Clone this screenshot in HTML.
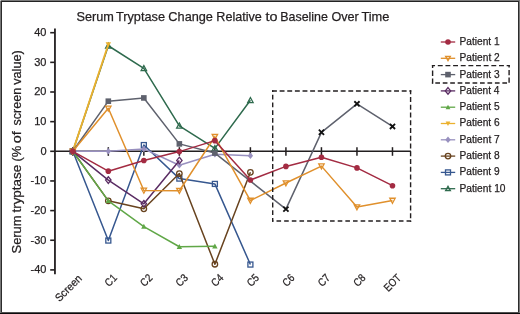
<!DOCTYPE html>
<html><head><meta charset="utf-8"><style>
html,body{margin:0;padding:0;background:#fff;}
body{width:520px;height:314px;overflow:hidden;}
svg{display:block;will-change:transform;}
text{font-family:"Liberation Sans",sans-serif;fill:#231f20;stroke:#231f20;stroke-width:0.25px;}
.tk{font-size:11px;}
.xl{font-size:11px;}
.lg{font-size:10.3px;}
.tt{font-size:13.2px;}
.yl{font-size:13.4px;}
</style></head><body>
<svg width="520" height="314" viewBox="0 0 520 314">
<line x1="54.95" y1="28.6" x2="54.95" y2="274.2" stroke="#231f20" stroke-width="1.8"/>
<line x1="50.2" y1="269.90" x2="55" y2="269.90" stroke="#231f20" stroke-width="1.6"/>
<text x="46.5" y="273.25" text-anchor="end" class="tk">-40</text>
<line x1="50.2" y1="240.25" x2="55" y2="240.25" stroke="#231f20" stroke-width="1.6"/>
<text x="46.5" y="243.60" text-anchor="end" class="tk">-30</text>
<line x1="50.2" y1="210.60" x2="55" y2="210.60" stroke="#231f20" stroke-width="1.6"/>
<text x="46.5" y="213.95" text-anchor="end" class="tk">-20</text>
<line x1="50.2" y1="180.95" x2="55" y2="180.95" stroke="#231f20" stroke-width="1.6"/>
<text x="46.5" y="184.30" text-anchor="end" class="tk">-10</text>
<line x1="50.2" y1="151.30" x2="55" y2="151.30" stroke="#231f20" stroke-width="1.6"/>
<text x="46.5" y="154.65" text-anchor="end" class="tk">0</text>
<line x1="50.2" y1="121.65" x2="55" y2="121.65" stroke="#231f20" stroke-width="1.6"/>
<text x="46.5" y="125.00" text-anchor="end" class="tk">10</text>
<line x1="50.2" y1="92.00" x2="55" y2="92.00" stroke="#231f20" stroke-width="1.6"/>
<text x="46.5" y="95.35" text-anchor="end" class="tk">20</text>
<line x1="50.2" y1="62.35" x2="55" y2="62.35" stroke="#231f20" stroke-width="1.6"/>
<text x="46.5" y="65.70" text-anchor="end" class="tk">30</text>
<line x1="50.2" y1="32.70" x2="55" y2="32.70" stroke="#231f20" stroke-width="1.6"/>
<text x="46.5" y="36.05" text-anchor="end" class="tk">40</text>
<line x1="55" y1="151.3" x2="411" y2="151.3" stroke="#231f20" stroke-width="1.6"/>
<line x1="72.80" y1="147.2" x2="72.80" y2="155.8" stroke="#231f20" stroke-width="1.5"/>
<line x1="108.32" y1="147.2" x2="108.32" y2="155.8" stroke="#231f20" stroke-width="1.5"/>
<line x1="143.84" y1="147.2" x2="143.84" y2="155.8" stroke="#231f20" stroke-width="1.5"/>
<line x1="179.36" y1="147.2" x2="179.36" y2="155.8" stroke="#231f20" stroke-width="1.5"/>
<line x1="214.88" y1="147.2" x2="214.88" y2="155.8" stroke="#231f20" stroke-width="1.5"/>
<line x1="250.40" y1="147.2" x2="250.40" y2="155.8" stroke="#231f20" stroke-width="1.5"/>
<line x1="285.92" y1="147.2" x2="285.92" y2="155.8" stroke="#231f20" stroke-width="1.5"/>
<line x1="321.44" y1="147.2" x2="321.44" y2="155.8" stroke="#231f20" stroke-width="1.5"/>
<line x1="356.96" y1="147.2" x2="356.96" y2="155.8" stroke="#231f20" stroke-width="1.5"/>
<line x1="392.48" y1="147.2" x2="392.48" y2="155.8" stroke="#231f20" stroke-width="1.5"/>
<text x="82.60" y="279.20" text-anchor="end" transform="rotate(-45 82.60 279.20)" class="xl" textLength="32.76" lengthAdjust="spacingAndGlyphs">Screen</text>
<text x="117.62" y="278.60" text-anchor="end" transform="rotate(-45 117.62 278.60)" class="xl" textLength="12.09" lengthAdjust="spacingAndGlyphs">C1</text>
<text x="153.14" y="278.60" text-anchor="end" transform="rotate(-45 153.14 278.60)" class="xl" textLength="12.09" lengthAdjust="spacingAndGlyphs">C2</text>
<text x="188.66" y="278.60" text-anchor="end" transform="rotate(-45 188.66 278.60)" class="xl" textLength="12.09" lengthAdjust="spacingAndGlyphs">C3</text>
<text x="224.18" y="278.60" text-anchor="end" transform="rotate(-45 224.18 278.60)" class="xl" textLength="12.09" lengthAdjust="spacingAndGlyphs">C4</text>
<text x="259.70" y="278.60" text-anchor="end" transform="rotate(-45 259.70 278.60)" class="xl" textLength="12.09" lengthAdjust="spacingAndGlyphs">C5</text>
<text x="295.22" y="278.60" text-anchor="end" transform="rotate(-45 295.22 278.60)" class="xl" textLength="12.09" lengthAdjust="spacingAndGlyphs">C6</text>
<text x="330.74" y="278.60" text-anchor="end" transform="rotate(-45 330.74 278.60)" class="xl" textLength="12.09" lengthAdjust="spacingAndGlyphs">C7</text>
<text x="366.26" y="278.60" text-anchor="end" transform="rotate(-45 366.26 278.60)" class="xl" textLength="12.09" lengthAdjust="spacingAndGlyphs">C8</text>
<text x="401.78" y="278.60" text-anchor="end" transform="rotate(-45 401.78 278.60)" class="xl" textLength="19.22" lengthAdjust="spacingAndGlyphs">EOT</text>
<path d="M72.80,151.30L108.32,45.75L143.84,68.28L179.36,125.80L214.88,148.34L250.40,100.30" fill="none" stroke="#2e6a4d" stroke-width="1.5" stroke-linejoin="round"/>
<polygon points="72.80,148.55 75.50,153.55 70.10,153.55" fill="none" stroke="#2e6a4d" stroke-width="1.3"/>
<polygon points="108.32,43.00 111.02,48.00 105.62,48.00" fill="none" stroke="#2e6a4d" stroke-width="1.3"/>
<polygon points="143.84,65.53 146.54,70.53 141.14,70.53" fill="none" stroke="#2e6a4d" stroke-width="1.3"/>
<polygon points="179.36,123.05 182.06,128.05 176.66,128.05" fill="none" stroke="#2e6a4d" stroke-width="1.3"/>
<polygon points="214.88,145.59 217.58,150.59 212.18,150.59" fill="none" stroke="#2e6a4d" stroke-width="1.3"/>
<polygon points="250.40,97.55 253.10,102.55 247.70,102.55" fill="none" stroke="#2e6a4d" stroke-width="1.3"/>
<path d="M72.80,151.30L108.32,240.55L143.84,145.07L179.36,178.58L214.88,183.92L250.40,264.56" fill="none" stroke="#36578f" stroke-width="1.5" stroke-linejoin="round"/>
<rect x="70.30" y="148.80" width="5.00" height="5.00" fill="none" stroke="#36578f" stroke-width="1.3"/>
<rect x="105.82" y="238.05" width="5.00" height="5.00" fill="none" stroke="#36578f" stroke-width="1.3"/>
<rect x="141.34" y="142.57" width="5.00" height="5.00" fill="none" stroke="#36578f" stroke-width="1.3"/>
<rect x="176.86" y="176.08" width="5.00" height="5.00" fill="none" stroke="#36578f" stroke-width="1.3"/>
<rect x="212.38" y="181.42" width="5.00" height="5.00" fill="none" stroke="#36578f" stroke-width="1.3"/>
<rect x="247.90" y="262.06" width="5.00" height="5.00" fill="none" stroke="#36578f" stroke-width="1.3"/>
<path d="M72.80,151.30L108.32,200.82L143.84,208.82L179.36,173.54L214.88,264.27L250.40,172.35" fill="none" stroke="#68431f" stroke-width="1.5" stroke-linejoin="round"/>
<circle cx="72.80" cy="151.30" r="2.75" fill="none" stroke="#68431f" stroke-width="1.3"/>
<circle cx="108.32" cy="200.82" r="2.75" fill="none" stroke="#68431f" stroke-width="1.3"/>
<circle cx="143.84" cy="208.82" r="2.75" fill="none" stroke="#68431f" stroke-width="1.3"/>
<circle cx="179.36" cy="173.54" r="2.75" fill="none" stroke="#68431f" stroke-width="1.3"/>
<circle cx="214.88" cy="264.27" r="2.75" fill="none" stroke="#68431f" stroke-width="1.3"/>
<circle cx="250.40" cy="172.35" r="2.75" fill="none" stroke="#68431f" stroke-width="1.3"/>
<path d="M72.80,151.30L108.32,151.30L143.84,148.93L179.36,165.24L214.88,154.27L250.40,155.75" fill="none" stroke="#9890bf" stroke-width="1.5" stroke-linejoin="round"/>
<polygon points="72.80,148.00 75.50,151.30 72.80,154.60 70.10,151.30" fill="#9890bf"/>
<polygon points="108.32,148.00 111.02,151.30 108.32,154.60 105.62,151.30" fill="#9890bf"/>
<polygon points="143.84,145.63 146.54,148.93 143.84,152.23 141.14,148.93" fill="#9890bf"/>
<polygon points="179.36,161.94 182.06,165.24 179.36,168.54 176.66,165.24" fill="#9890bf"/>
<polygon points="214.88,150.97 217.58,154.27 214.88,157.57 212.18,154.27" fill="#9890bf"/>
<polygon points="250.40,152.45 253.10,155.75 250.40,159.05 247.70,155.75" fill="#9890bf"/>
<path d="M72.80,151.30L108.32,44.56" fill="none" stroke="#ebb12e" stroke-width="1.9" stroke-linejoin="round"/>
<polygon points="72.80,154.05 75.50,149.05 70.10,149.05" fill="#ebb12e"/>
<polygon points="108.32,47.31 111.02,42.31 105.62,42.31" fill="#ebb12e"/>
<path d="M72.80,151.30L108.32,200.82L143.84,226.61L179.36,246.77L214.88,246.18" fill="none" stroke="#60a747" stroke-width="1.5" stroke-linejoin="round"/>
<polygon points="72.80,148.55 75.50,153.55 70.10,153.55" fill="#60a747"/>
<polygon points="108.32,198.07 111.02,203.07 105.62,203.07" fill="#60a747"/>
<polygon points="143.84,223.86 146.54,228.86 141.14,228.86" fill="#60a747"/>
<polygon points="179.36,244.02 182.06,249.02 176.66,249.02" fill="#60a747"/>
<polygon points="214.88,243.43 217.58,248.43 212.18,248.43" fill="#60a747"/>
<path d="M72.80,151.30L108.32,180.06L143.84,203.78L179.36,160.49" fill="none" stroke="#5a2c63" stroke-width="1.5" stroke-linejoin="round"/>
<polygon points="72.80,148.00 75.50,151.30 72.80,154.60 70.10,151.30" fill="none" stroke="#5a2c63" stroke-width="1.3"/>
<polygon points="108.32,176.76 111.02,180.06 108.32,183.36 105.62,180.06" fill="none" stroke="#5a2c63" stroke-width="1.3"/>
<polygon points="143.84,200.48 146.54,203.78 143.84,207.08 141.14,203.78" fill="none" stroke="#5a2c63" stroke-width="1.3"/>
<polygon points="179.36,157.19 182.06,160.49 179.36,163.79 176.66,160.49" fill="none" stroke="#5a2c63" stroke-width="1.3"/>
<path d="M72.80,151.30L108.32,101.19L143.84,97.93L179.36,143.89L214.88,153.08L285.92,209.12L321.44,132.32L356.96,103.86L392.48,126.39" fill="none" stroke="#5e616d" stroke-width="1.5" stroke-linejoin="round"/>
<rect x="70.00" y="148.50" width="5.60" height="5.60" fill="#5e616d"/>
<rect x="105.52" y="98.39" width="5.60" height="5.60" fill="#5e616d"/>
<rect x="141.04" y="95.13" width="5.60" height="5.60" fill="#5e616d"/>
<rect x="176.56" y="141.09" width="5.60" height="5.60" fill="#5e616d"/>
<rect x="212.08" y="150.28" width="5.60" height="5.60" fill="#5e616d"/>
<path d="M283.32,206.52L288.52,211.72M288.52,206.52L283.32,211.72" stroke="#111" stroke-width="1.8" fill="none"/>
<path d="M318.84,129.72L324.04,134.92M324.04,129.72L318.84,134.92" stroke="#111" stroke-width="1.8" fill="none"/>
<path d="M354.36,101.26L359.56,106.46M359.56,101.26L354.36,106.46" stroke="#111" stroke-width="1.8" fill="none"/>
<path d="M389.88,123.79L395.08,128.99M395.08,123.79L389.88,128.99" stroke="#111" stroke-width="1.8" fill="none"/>
<path d="M72.80,151.30L108.32,108.31L143.84,190.44L179.36,190.73L214.88,136.77L250.40,200.52L285.92,183.03L321.44,166.12L356.96,207.04L392.48,200.52" fill="none" stroke="#e0902c" stroke-width="1.5" stroke-linejoin="round"/>
<polygon points="72.80,154.05 75.50,149.05 70.10,149.05" fill="none" stroke="#e0902c" stroke-width="1.3"/>
<polygon points="108.32,111.06 111.02,106.06 105.62,106.06" fill="none" stroke="#e0902c" stroke-width="1.3"/>
<polygon points="143.84,193.19 146.54,188.19 141.14,188.19" fill="none" stroke="#e0902c" stroke-width="1.3"/>
<polygon points="179.36,193.48 182.06,188.48 176.66,188.48" fill="none" stroke="#e0902c" stroke-width="1.3"/>
<polygon points="214.88,139.52 217.58,134.52 212.18,134.52" fill="none" stroke="#e0902c" stroke-width="1.3"/>
<polygon points="250.40,203.27 253.10,198.27 247.70,198.27" fill="none" stroke="#e0902c" stroke-width="1.3"/>
<polygon points="285.92,185.78 288.62,180.78 283.22,180.78" fill="none" stroke="#e0902c" stroke-width="1.3"/>
<polygon points="321.44,168.88 324.14,163.88 318.74,163.88" fill="none" stroke="#e0902c" stroke-width="1.3"/>
<polygon points="356.96,209.79 359.66,204.79 354.26,204.79" fill="none" stroke="#e0902c" stroke-width="1.3"/>
<polygon points="392.48,203.27 395.18,198.27 389.78,198.27" fill="none" stroke="#e0902c" stroke-width="1.3"/>
<path d="M72.80,151.30L108.32,171.17L143.84,160.49L179.36,151.60L214.88,140.63L250.40,180.06L285.92,166.42L321.44,157.23L356.96,167.90L392.48,185.69" fill="none" stroke="#a32b42" stroke-width="1.5" stroke-linejoin="round"/>
<circle cx="72.80" cy="151.30" r="2.80" fill="#a32b42"/>
<circle cx="108.32" cy="171.17" r="2.80" fill="#a32b42"/>
<circle cx="143.84" cy="160.49" r="2.80" fill="#a32b42"/>
<circle cx="179.36" cy="151.60" r="2.80" fill="#a32b42"/>
<circle cx="214.88" cy="140.63" r="2.80" fill="#a32b42"/>
<circle cx="250.40" cy="180.06" r="2.80" fill="#a32b42"/>
<circle cx="285.92" cy="166.42" r="2.80" fill="#a32b42"/>
<circle cx="321.44" cy="157.23" r="2.80" fill="#a32b42"/>
<circle cx="356.96" cy="167.90" r="2.80" fill="#a32b42"/>
<circle cx="392.48" cy="185.69" r="2.80" fill="#a32b42"/>
<path d="M272.00,91.0H276.90M279.63,91.0H284.53M287.26,91.0H292.16M294.89,91.0H299.79M302.52,91.0H307.42M310.15,91.0H315.05M317.78,91.0H322.68M325.41,91.0H330.31M333.04,91.0H337.94M340.67,91.0H345.57M348.30,91.0H353.20M355.93,91.0H360.83M363.56,91.0H368.46M371.19,91.0H376.09M378.82,91.0H383.72M386.45,91.0H391.35M394.08,91.0H398.98M401.71,91.0H406.61M409.34,91.0H411.30" stroke="#231f20" stroke-width="1.4" fill="none"/>
<path d="M410.6,90.30V94.15M410.6,96.90V101.90M410.6,104.65V109.65M410.6,112.40V117.40M410.6,120.15V125.15M410.6,127.90V132.90M410.6,135.65V140.65M410.6,143.40V148.40M410.6,151.15V156.15M410.6,158.90V163.90M410.6,166.65V171.65M410.6,174.40V179.40M410.6,182.15V187.15M410.6,189.90V194.90M410.6,197.65V202.65M410.6,205.40V210.40M410.6,213.15V218.15M410.6,220.90V221.70" stroke="#231f20" stroke-width="1.4" fill="none"/>
<path d="M272.00,221.0H273.45M276.50,221.0H281.10M284.15,221.0H288.75M291.80,221.0H296.40M299.45,221.0H304.05M307.10,221.0H311.70M314.75,221.0H319.35M322.40,221.0H327.00M330.05,221.0H334.65M337.70,221.0H342.30M345.35,221.0H349.95M353.00,221.0H357.60M360.65,221.0H365.25M368.30,221.0H372.90M375.95,221.0H380.55M383.60,221.0H388.20M391.25,221.0H395.85M398.90,221.0H403.50M406.55,221.0H411.15" stroke="#231f20" stroke-width="1.4" fill="none"/>
<path d="M272.7,90.30V91.90M272.7,94.80V99.60M272.7,102.50V107.30M272.7,110.20V115.00M272.7,117.90V122.70M272.7,125.60V130.40M272.7,133.30V138.10M272.7,141.00V145.80M272.7,148.70V153.50M272.7,156.40V161.20M272.7,164.10V168.90M272.7,171.80V176.60M272.7,179.50V184.30M272.7,187.20V192.00M272.7,194.90V199.70M272.7,202.60V207.40M272.7,210.30V215.10M272.7,218.00V221.70" stroke="#231f20" stroke-width="1.4" fill="none"/>
<line x1="440.8" y1="42.00" x2="455.2" y2="42.00" stroke="#a32b42" stroke-width="1.3"/>
<circle cx="448.00" cy="42.00" r="2.80" fill="#a32b42"/>
<text x="459.57" y="44.90" class="lg" textLength="40.12" lengthAdjust="spacingAndGlyphs">Patient 1</text>
<line x1="440.8" y1="58.30" x2="455.2" y2="58.30" stroke="#e0902c" stroke-width="1.3"/>
<polygon points="448.00,60.72 450.38,56.32 445.62,56.32" fill="none" stroke="#e0902c" stroke-width="1.3"/>
<text x="459.57" y="61.20" class="lg" textLength="40.15" lengthAdjust="spacingAndGlyphs">Patient 2</text>
<line x1="440.8" y1="74.60" x2="455.2" y2="74.60" stroke="#5e616d" stroke-width="1.3"/>
<rect x="445.20" y="71.80" width="5.60" height="5.60" fill="#5e616d"/>
<text x="459.57" y="77.50" class="lg" textLength="40.07" lengthAdjust="spacingAndGlyphs">Patient 3</text>
<line x1="440.8" y1="90.90" x2="455.2" y2="90.90" stroke="#5a2c63" stroke-width="1.3"/>
<polygon points="448.00,87.60 450.70,90.90 448.00,94.20 445.30,90.90" fill="none" stroke="#5a2c63" stroke-width="1.3"/>
<text x="459.57" y="93.80" class="lg" textLength="39.93" lengthAdjust="spacingAndGlyphs">Patient 4</text>
<line x1="440.8" y1="107.20" x2="455.2" y2="107.20" stroke="#60a747" stroke-width="1.3"/>
<polygon points="448.00,104.78 450.38,109.18 445.62,109.18" fill="#60a747"/>
<text x="459.57" y="110.10" class="lg" textLength="40.05" lengthAdjust="spacingAndGlyphs">Patient 5</text>
<line x1="440.8" y1="123.50" x2="455.2" y2="123.50" stroke="#ebb12e" stroke-width="1.3"/>
<polygon points="448.00,125.92 450.38,121.52 445.62,121.52" fill="#ebb12e"/>
<text x="459.57" y="126.40" class="lg" textLength="40.07" lengthAdjust="spacingAndGlyphs">Patient 6</text>
<line x1="440.8" y1="139.80" x2="455.2" y2="139.80" stroke="#9890bf" stroke-width="1.3"/>
<polygon points="448.00,136.50 450.70,139.80 448.00,143.10 445.30,139.80" fill="#9890bf"/>
<text x="459.57" y="142.70" class="lg" textLength="40.15" lengthAdjust="spacingAndGlyphs">Patient 7</text>
<line x1="440.8" y1="156.10" x2="455.2" y2="156.10" stroke="#68431f" stroke-width="1.3"/>
<circle cx="448.00" cy="156.10" r="2.75" fill="none" stroke="#68431f" stroke-width="1.3"/>
<text x="459.57" y="159.00" class="lg" textLength="40.07" lengthAdjust="spacingAndGlyphs">Patient 8</text>
<line x1="440.8" y1="172.40" x2="455.2" y2="172.40" stroke="#36578f" stroke-width="1.3"/>
<rect x="445.50" y="169.90" width="5.00" height="5.00" fill="none" stroke="#36578f" stroke-width="1.3"/>
<text x="459.57" y="175.30" class="lg" textLength="40.11" lengthAdjust="spacingAndGlyphs">Patient 9</text>
<line x1="440.8" y1="188.70" x2="455.2" y2="188.70" stroke="#2e6a4d" stroke-width="1.3"/>
<polygon points="448.00,186.28 450.38,190.68 445.62,190.68" fill="none" stroke="#2e6a4d" stroke-width="1.3"/>
<text x="459.56" y="191.60" class="lg" textLength="45.93" lengthAdjust="spacingAndGlyphs">Patient 10</text>
<path d="M431.90,65.6H435.05M437.80,65.6H442.70M445.45,65.6H450.35M453.10,65.6H458.00M460.75,65.6H465.65M468.40,65.6H473.30M476.05,65.6H480.95M483.70,65.6H488.60M491.35,65.6H496.25M499.00,65.6H503.90M506.65,65.6H509.80" stroke="#231f20" stroke-width="1.4" fill="none"/>
<path d="M509.1,64.90V67.60M509.1,70.00V75.20M509.1,77.60V82.80" stroke="#231f20" stroke-width="1.4" fill="none"/>
<path d="M431.90,83.0H432.55M435.30,83.0H440.00M442.75,83.0H447.45M450.20,83.0H454.90M457.65,83.0H462.35M465.10,83.0H469.80M472.55,83.0H477.25M480.00,83.0H484.70M487.45,83.0H492.15M494.90,83.0H499.60M502.35,83.0H507.05" stroke="#231f20" stroke-width="1.4" fill="none"/>
<path d="M432.6,64.90V68.10M432.6,70.60V75.90M432.6,78.40V83.70" stroke="#231f20" stroke-width="1.4" fill="none"/>
<text x="76.43" y="20.8" class="tt" textLength="37.40" lengthAdjust="spacingAndGlyphs">Serum</text>
<text x="115.92" y="20.8" class="tt" textLength="49.14" lengthAdjust="spacingAndGlyphs">Tryptase</text>
<text x="168.36" y="20.8" class="tt" textLength="44.60" lengthAdjust="spacingAndGlyphs">Change</text>
<text x="216.27" y="20.8" class="tt" textLength="45.59" lengthAdjust="spacingAndGlyphs">Relative</text>
<text x="265.48" y="20.8" class="tt" textLength="12.01" lengthAdjust="spacingAndGlyphs">to</text>
<text x="280.28" y="20.8" class="tt" textLength="47.67" lengthAdjust="spacingAndGlyphs">Baseline</text>
<text x="331.41" y="20.8" class="tt" textLength="27.40" lengthAdjust="spacingAndGlyphs">Over</text>
<text x="361.42" y="20.8" class="tt" textLength="28.05" lengthAdjust="spacingAndGlyphs">Time</text>
<text x="-253.48" y="0" class="yl" transform="translate(21.4 0) rotate(-90)" textLength="38.02" lengthAdjust="spacingAndGlyphs">Serum</text>
<text x="-212.60" y="0" class="yl" transform="translate(21.4 0) rotate(-90)" textLength="47.90" lengthAdjust="spacingAndGlyphs">tryptase</text>
<text x="-161.50" y="0" class="yl" transform="translate(21.4 0) rotate(-90)" textLength="15.86" lengthAdjust="spacingAndGlyphs">(%</text>
<text x="-143.21" y="0" class="yl" transform="translate(21.4 0) rotate(-90)" textLength="12.08" lengthAdjust="spacingAndGlyphs">of</text>
<text x="-125.44" y="0" class="yl" transform="translate(21.4 0) rotate(-90)" textLength="37.54" lengthAdjust="spacingAndGlyphs">screen</text>
<text x="-84.84" y="0" class="yl" transform="translate(21.4 0) rotate(-90)" textLength="34.62" lengthAdjust="spacingAndGlyphs">value)</text>
<rect x="0" y="0" width="520" height="1" fill="#7a7a7a"/>
<rect x="0" y="0" width="1" height="314" fill="#787878"/>
<rect x="519" y="0" width="1" height="314" fill="#7a7a7a"/>
<rect x="1" y="1" width="518" height="1" fill="#232323"/>
<rect x="1" y="1" width="1" height="312" fill="#2c2c2c"/>
<rect x="518" y="1" width="1" height="312" fill="#2c2c2c"/>
<rect x="1" y="312" width="518" height="1" fill="#505050"/>
<rect x="0" y="313" width="520" height="1" fill="#0c0c0c"/>
<rect x="0" y="0" width="1" height="1" fill="#c8c8c8"/>
</svg>
</body></html>
